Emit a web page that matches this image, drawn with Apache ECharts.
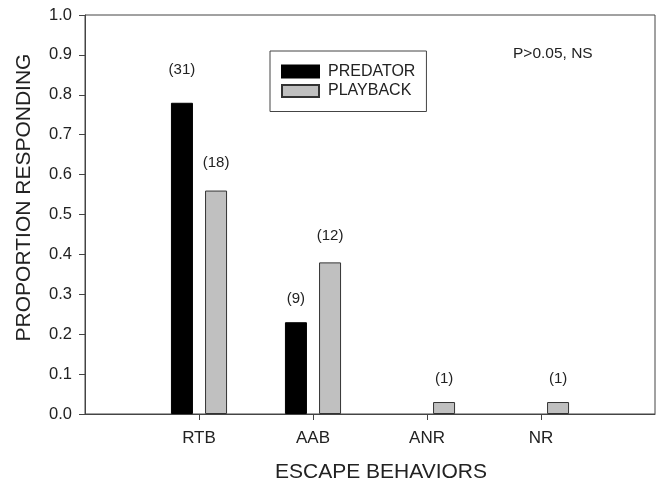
<!DOCTYPE html>
<html><head><meta charset="utf-8">
<script src="https://cdn.jsdelivr.net/npm/echarts@6/dist/echarts.min.js"></script>
<style>html,body{margin:0;padding:0;background:#fff}#c{width:658px;height:481px}</style>
</head><body><div id="c"></div>
<script>
var categories = ['', 'RTB', 'AAB', 'ANR', 'NR', ''];
var predatorValues = [null, 0.78, 0.23, null, null, null];
var playbackValues = [null, 0.56, 0.38, 0.03, 0.03, null];
var predatorCounts = ['', '(31)', '(9)', '', '', ''];
var playbackCounts = ['', '(18)', '(12)', '(1)', '(1)', ''];
var yTicks = [0.0, 0.1, 0.2, 0.3, 0.4, 0.5, 0.6, 0.7, 0.8, 0.9, 1.0];

var FONT = '"Liberation Sans", Arial, sans-serif';
function build(vals, counts, dists) {
  return vals.map(function (v, i) {
    return { value: v, label: { formatter: counts[i], distance: dists[i] } };
  });
}
var chart = echarts.init(document.getElementById('c'), null, { renderer: 'canvas' });
chart.setOption({
  animation: false,
  backgroundColor: '#fff',
  grid: { left: 85, right: 3, top: 15, bottom: 67, show: true, borderColor: '#444', borderWidth: 1,
    containLabel: false, outerBoundsMode: 'none' },
  legend: {
    orient: 'vertical', left: 270, top: 51,
    padding: [12.5, 11, 12.5, 11],
    borderColor: '#444', borderWidth: 1,
    itemWidth: 37, itemHeight: 12, itemGap: 3.5,
    icon: 'rect',
    textStyle: { fontFamily: FONT, fontSize: 16, color: '#222', padding: [0, 0, 0, 4] },
    data: ['PREDATOR', 'PLAYBACK']
  },
  graphic: [{
    type: 'text', left: 513, top: 46,
    style: { text: 'P>0.05, NS', font: '15.5px ' + FONT, fill: '#222' }
  }],
  xAxis: {
    type: 'category', data: categories, boundaryGap: false,
    name: 'ESCAPE BEHAVIORS', nameLocation: 'middle', nameGap: 48,
    nameTextStyle: { fontFamily: FONT, fontSize: 21, color: '#222', padding: [0, 0, 0, 22] },
    axisLine: { lineStyle: { color: '#444', width: 1 } },
    axisTick: { length: 6, lineStyle: { color: '#444' }, interval: function (i) { return i > 0 && i < 5; } },
    axisLabel: { fontFamily: FONT, fontSize: 17, color: '#222', margin: 16, interval: 0 },
    splitLine: { show: false }
  },
  yAxis: {
    type: 'value', min: 0, max: 1, interval: 0.1,
    name: 'PROPORTION RESPONDING', nameLocation: 'middle', nameGap: 50, nameRotate: 90,
    nameTextStyle: { fontFamily: FONT, fontSize: 21, color: '#222', padding: [0, 0, 0, 34] },
    axisLine: { show: true, lineStyle: { color: '#444', width: 1 } },
    axisTick: { show: true, length: 6, lineStyle: { color: '#444' } },
    axisLabel: { fontFamily: FONT, fontSize: 16.5, color: '#222', margin: 13,
      formatter: function (v) { return v.toFixed(1); } },
    splitLine: { show: false }
  },
  series: [{
    name: 'PREDATOR', type: 'bar', barWidth: 22, barGap: '55%',
    itemStyle: { color: '#000', borderColor: '#000', borderWidth: 1 },
    label: { show: true, position: 'top', fontFamily: FONT, fontSize: 15, color: '#222' },
    data: build(predatorValues, predatorCounts, [0, 25, 16, 0, 0, 0])
  }, {
    name: 'PLAYBACK', type: 'bar', barWidth: 22,
    itemStyle: { color: '#c0c0c0', borderColor: '#333', borderWidth: 1 },
    label: { show: true, position: 'top', fontFamily: FONT, fontSize: 15, color: '#222' },
    data: build(playbackValues, playbackCounts, [0, 20, 19, 16, 16, 0])
  }]
});
</script></body></html>
